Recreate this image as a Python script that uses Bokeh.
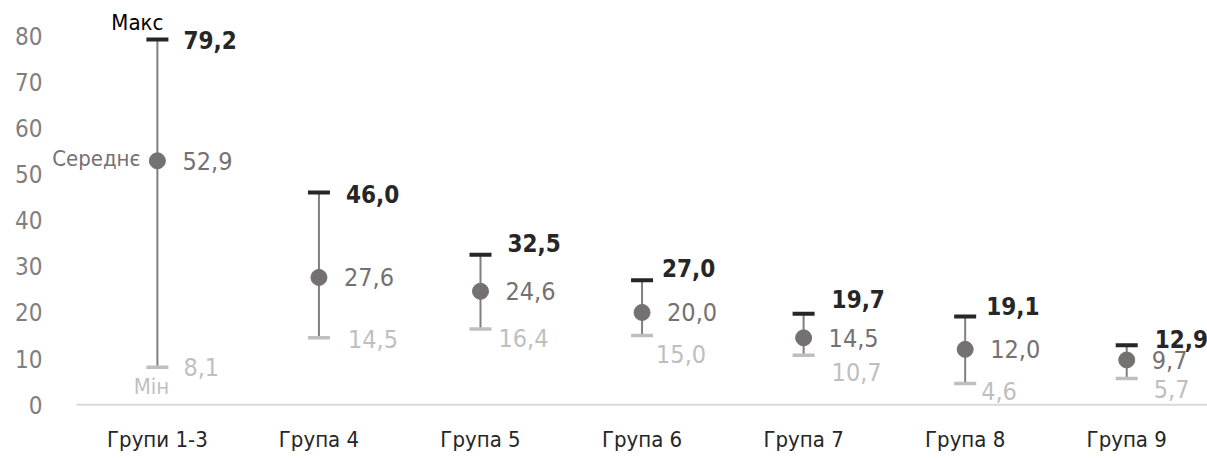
from bokeh.plotting import figure
from bokeh.models import ColumnDataSource, Range1d, FixedTicker
from bokeh.core.properties import value
from bokeh.embed import file_html
from bokeh.resources import INLINE

groups = ["Групи 1-3", "Група 4", "Група 5", "Група 6", "Група 7", "Група 8", "Група 9"]
max_vals = [79.2, 46.0, 32.5, 27.0, 19.7, 19.1, 12.9]
mean_vals = [52.9, 27.6, 24.6, 20.0, 14.5, 12.0, 9.7]
min_vals = [8.1, 14.5, 16.4, 15.0, 10.7, 4.6, 5.7]
y_ticks = [0, 10, 20, 30, 40, 50, 60, 70, 80]

# label nudges (screen pixels)
max_dx = [26, 27, 27, 20, 28, 21, 28]
max_dy = [0, 1, -12, -12, -15, -11, -6]
min_dx = [26, 29, 18, 14, 28, 16, 27]
min_dy = [0, 1, 9, 18, 17, 8, 11]

FONT = "DejaVu Sans Condensed"
DARK = "#262626"
MID = "#767171"
LIGHT = "#bfbfbf"

fmt = lambda v: f"{v:.1f}".replace(".", ",")
xs = list(range(len(groups)))

src = ColumnDataSource(dict(
    x=xs, mx=max_vals, mn=min_vals, av=mean_vals,
    mx_t=[fmt(v) for v in max_vals], mn_t=[fmt(v) for v in min_vals], av_t=[fmt(v) for v in mean_vals],
    mx_dx=max_dx, mx_dy=max_dy, mn_dx=min_dx, mn_dy=min_dy,
))

p = figure(width=1207, height=459, x_range=Range1d(-0.674, len(groups) - 0.5),
           y_range=Range1d(-3, 85.94), output_backend="svg", toolbar_location=None,
           min_border_left=48, min_border_right=0, min_border_top=8, min_border_bottom=41)
p.outline_line_color = None
p.grid.grid_line_color = None
p.background_fill_color = "white"

# baseline across the category band
p.segment(x0=[-0.5], y0=[0], x1=[len(groups) - 0.5], y1=[0], line_color="#d9d9d9", line_width=2)

p.segment(x0="x", y0="mn", x1="x", y1="mx", source=src, line_color="#7f7f7f", line_width=2)
p.scatter(x="x", y="mx", source=src, marker="dash", size=22, line_color=DARK, line_width=4)
p.scatter(x="x", y="mn", source=src, marker="dash", size=22, line_color=LIGHT, line_width=3.5)
p.scatter(x="x", y="av", source=src, marker="circle", size=16, fill_color=MID, line_color=MID)

p.text(x="x", y="mx", text="mx_t", source=src, x_offset="mx_dx", y_offset="mx_dy",
       text_font=value(FONT), text_font_size="24px", text_font_style="bold",
       text_color=DARK, text_align="left", text_baseline="middle")
p.text(x="x", y="av", text="av_t", source=src, x_offset=25, y_offset=0,
       text_font=value(FONT), text_font_size="25px", text_color=MID,
       text_align="left", text_baseline="middle")
p.text(x="x", y="mn", text="mn_t", source=src, x_offset="mn_dx", y_offset="mn_dy",
       text_font=value(FONT), text_font_size="25px", text_color=LIGHT,
       text_align="left", text_baseline="middle")

# series annotations next to the first group
p.text(x=[xs[0]], y=[max_vals[0]], text=["Макс"], x_offset=6, y_offset=-17,
       text_font=value(FONT), text_font_size="22px", text_color="#000000",
       text_align="right", text_baseline="middle")
p.text(x=[xs[0]], y=[mean_vals[0]], text=["Середнє"], x_offset=-17, y_offset=-2,
       text_font=value(FONT), text_font_size="22px", text_color=MID,
       text_align="right", text_baseline="middle")
p.text(x=[xs[0]], y=[min_vals[0]], text=["Мін"], x_offset=-6, y_offset=19,
       text_font=value(FONT), text_font_size="22px", text_color=LIGHT,
       text_align="center", text_baseline="middle")

p.yaxis.ticker = FixedTicker(ticks=y_ticks)
p.yaxis.axis_line_color = None
p.yaxis.major_tick_line_color = None
p.yaxis.minor_tick_line_color = None
p.yaxis.major_tick_out = 0
p.yaxis.major_tick_in = 0
p.yaxis.major_label_standoff = 6
p.yaxis.major_label_text_font = FONT
p.yaxis.major_label_text_font_size = "24px"
p.yaxis.major_label_text_color = "#7f7f7f"

p.xaxis.ticker = FixedTicker(ticks=xs)
p.xaxis.major_label_overrides = {i: g for i, g in zip(xs, groups)}
p.xaxis.axis_line_color = None
p.xaxis.major_tick_line_color = None
p.xaxis.minor_tick_line_color = None
p.xaxis.major_tick_out = 0
p.xaxis.major_tick_in = 0
p.xaxis.major_label_standoff = 8
p.xaxis.major_label_text_font = FONT
p.xaxis.major_label_text_font_size = "22px"
p.xaxis.major_label_text_color = DARK

open("out.html", "w").write(file_html(p, INLINE))
